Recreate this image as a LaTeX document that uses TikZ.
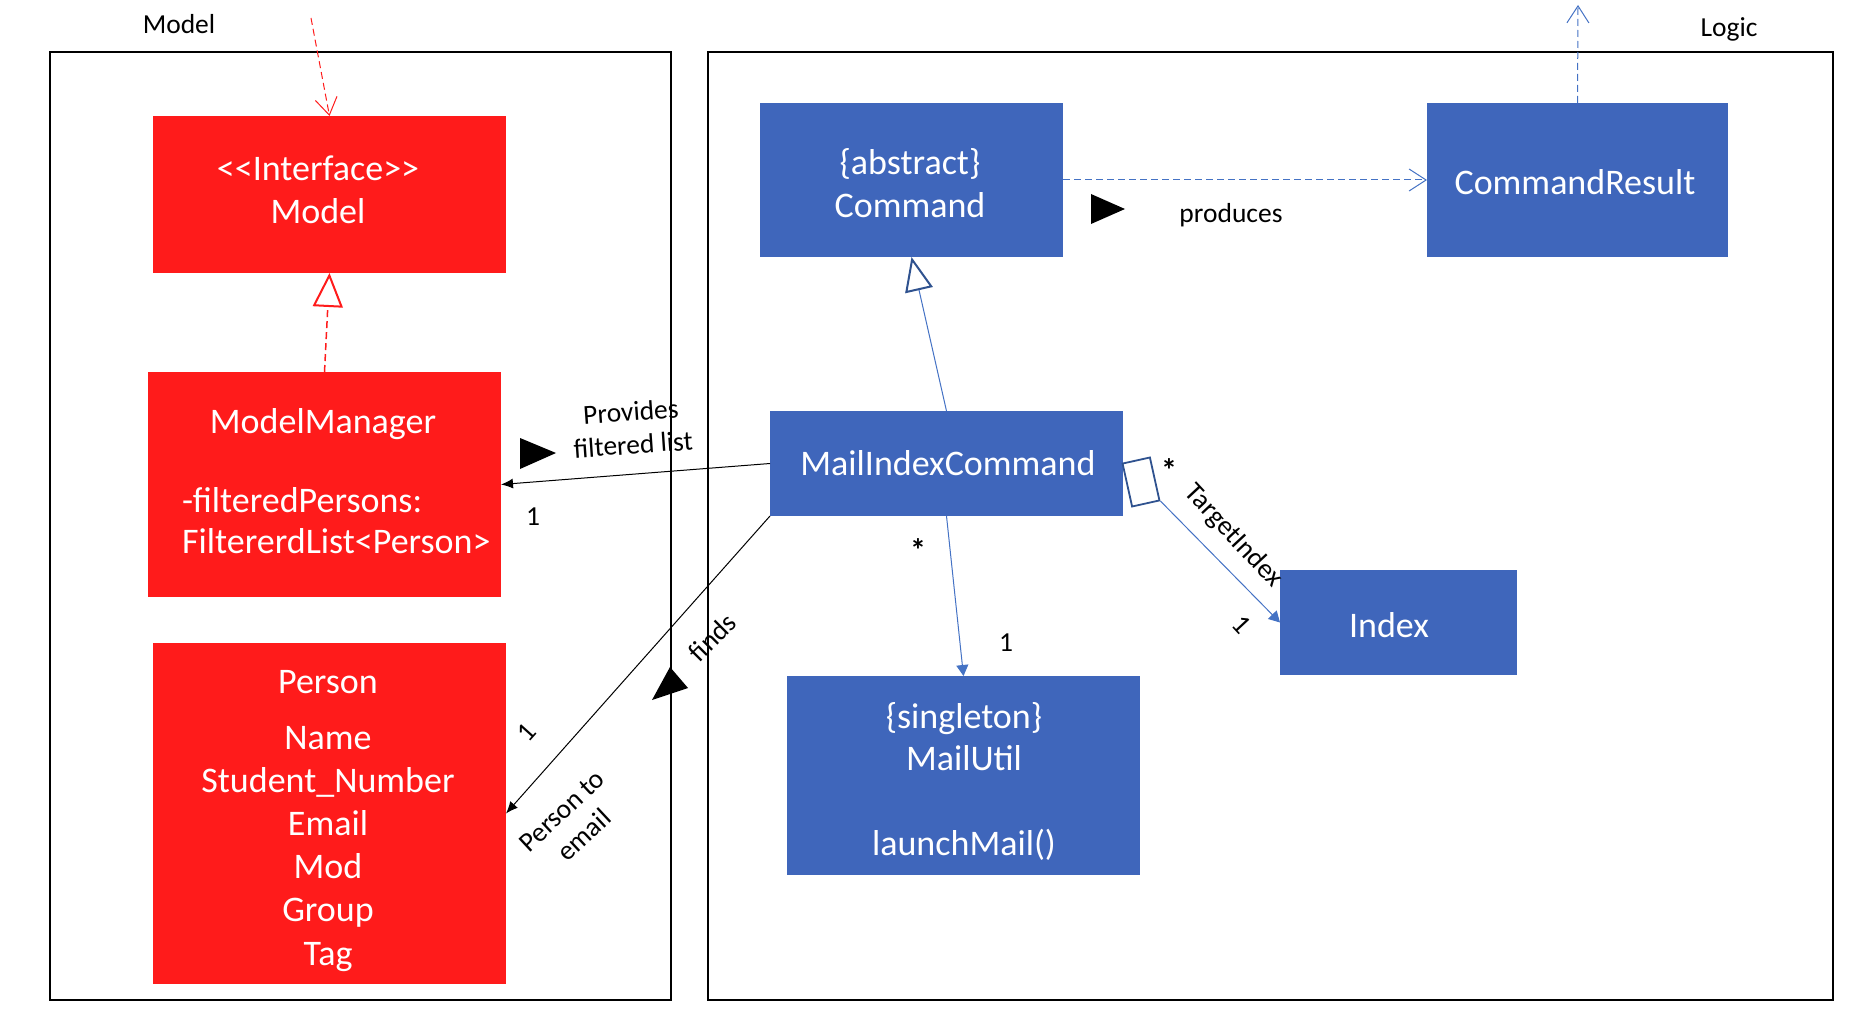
\documentclass[tikz,border=0pt]{standalone}
\usepackage{fontspec}
\setmainfont{Carlito}
\usetikzlibrary{arrows.meta}
\definecolor{mred}{RGB}{255,27,27}
\definecolor{lblue}{RGB}{63,102,187}
\definecolor{lline}{RGB}{68,114,196}
\definecolor{dblue}{RGB}{47,82,143}
\begin{document}
\begin{tikzpicture}[x=1pt,y=-1pt,
  frame/.style={draw=black,line width=2pt},
  redbox/.style={fill=mred,inner sep=0pt,outer sep=0pt},
  bluebox/.style={fill=lblue,inner sep=0pt,outer sep=0pt},
  bt/.style={text=white,font=\fontsize{36}{43}\selectfont,inner sep=0pt,text height=0.64em,text depth=0pt,yshift=-7pt},
  lbl/.style={text=black,font=\fontsize{27.5}{31}\selectfont,inner sep=0pt,text height=0.64em,text depth=0pt,yshift=-6pt},
  star/.style={text=black,font=\fontsize{32}{36}\selectfont\bfseries,inner sep=0pt},
  mlbl/.style={text=black,font=\fontsize{27.5}{33}\selectfont,inner sep=0pt,align=center},
  openbarb/.style={-{Straight Barb[length=17pt,width=22pt,line width=1pt]}},
]
\useasboundingbox (0,0) rectangle (1874,1035);

% frames
\draw[frame] (50,52) rectangle (671,1000);
\draw[frame] (708,52) rectangle (1833,1000);
\node[lbl] (tmodel) at (179,24) {Model};
\node[lbl] (tlogic) at (1729,27) {Logic};

% model boxes
\node[redbox,minimum width=353pt,minimum height=157pt] (im) at (329.5,194.5) {};
\node[bt] (im1) at (318,170) {<\kern0pt<Interface>\kern0pt>};
\node[bt] (im2) at (318,213) {Model};

\node[redbox,minimum width=353pt,minimum height=225pt] (mm) at (324.5,484.5) {};
\node[bt] (mm1) at (323,423) {ModelManager};
\node[bt,anchor=west] (mm2) at (182,502) {-filteredPersons:};
\node[bt,anchor=west] (mm3) at (182,543) {FiltererdList<Person>};

\node[redbox,minimum width=353pt,minimum height=341pt] (per) at (329.5,813.5) {};
\node[bt] (p1) at (328,683) {Person};
\node[bt] (p2) at (328,739) {Name};
\node[bt] (p3) at (328,782) {Student\_Number};
\node[bt] (p4) at (328,825) {Email};
\node[bt] (p5) at (328,868) {Mod};
\node[bt] (p6) at (328,911) {Group};
\node[bt] (p7) at (328,955) {Tag};

% logic boxes
\node[bluebox,minimum width=303pt,minimum height=154pt] (cmd) at (911.5,180) {};
\node[bt] (c1) at (910,164) {\{abstract\}};
\node[bt] (c2) at (910,207) {Command};

\node[bluebox,minimum width=301pt,minimum height=154pt] (cr) at (1577.5,180) {};
\node[bt] (cr1) at (1575,184) {CommandResult};

\node[bluebox,minimum width=353pt,minimum height=105pt] (mic) at (946.5,463.5) {};
\node[bt] (mic1) at (948,465) {MailIndexCommand};

\node[bluebox,minimum width=237pt,minimum height=105pt] (idx) at (1398.5,622.5) {};
\node[bt] (idx1) at (1389,627) {Index};

\node[bluebox,minimum width=353pt,minimum height=199pt] (mu) at (963.5,775.5) {};
\node[bt] (mu1) at (964,718) {\{singleton\}};
\node[bt] (mu2) at (964,760) {MailUtil};
\node[bt] (mu3) at (964,845) {launchMail()};

% connectors
\coordinate (topin) at (311,18);
\draw[mred,line width=1pt,dash pattern=on 7pt off 4pt,openbarb] (topin) -- (im.north);
\draw[mred,line width=1.5pt,dash pattern=on 7pt off 4pt,-{Triangle[length=34pt,width=30pt,fill=white,color=mred,line width=2pt]}] (mm.north) -- (im.south);

\draw[lline,line width=1pt,dash pattern=on 7pt off 4pt,openbarb] (cmd.east) -- (cr.west);
\coordinate (topout) at (1578,5);
\draw[lline,line width=1pt,dash pattern=on 7pt off 4pt,openbarb] (cr.north) -- (topout);

\draw[lline,line width=1pt,-{Triangle[length=34pt,width=28pt,fill=white,color=dblue,line width=2pt]}] (mic.north) -- (cmd.south);

\draw[black,line width=1pt,-{Latex[length=12pt,width=10pt]}] (mic.west) -- (mm.east);
\draw[black,line width=1pt,-{Latex[length=12pt,width=10pt]}] (mic.south west) -- (per.east);

\draw[lline,line width=1pt,-{Triangle[length=11pt,width=12pt]}] (mic.south) -- (mu.north);

\node[draw=dblue,line width=1.8pt,fill=white,minimum width=28pt,minimum height=44pt,rotate=12.5,inner sep=0pt] (agg) at (1141,482) {};
\draw[lline,line width=1pt,-{Triangle[length=11pt,width=12pt]}] (agg.south east) -- (idx.west);

% direction triangles
\fill[black] (1091,194) -- (1091,224) -- (1125,209) -- cycle;
\fill[black] (520,438) -- (520,469) -- (556,453) -- cycle;
\fill[black] (670,667) -- (688,688) -- (652,700) -- cycle;

% labels
\node[lbl] (lprod) at (1231,213) {produces};
\node[mlbl,rotate=4] (lprov) at (632,428) {Provides\\filtered list};
\node[lbl] (l1a) at (533,516) {1};
\node[lbl,rotate=45,yshift=6pt] (lfinds) at (721,640) {finds};
\node[lbl,rotate=48,yshift=6pt] (l1b) at (535,734) {1};
\node[mlbl,rotate=43] (lpe) at (573,823) {Person to\\email};
\node[star] (ls1) at (918,550) {*};
\node[lbl] (l1c) at (1006,642) {1};
\node[star] (ls2) at (1169,470) {*};
\node[lbl,rotate=-47,yshift=6pt] (ltgt) at (1226,537) {TargetIndex};
\node[lbl,rotate=-47,yshift=6pt] (l1d) at (1233,627) {1};
\end{tikzpicture}
\end{document}
